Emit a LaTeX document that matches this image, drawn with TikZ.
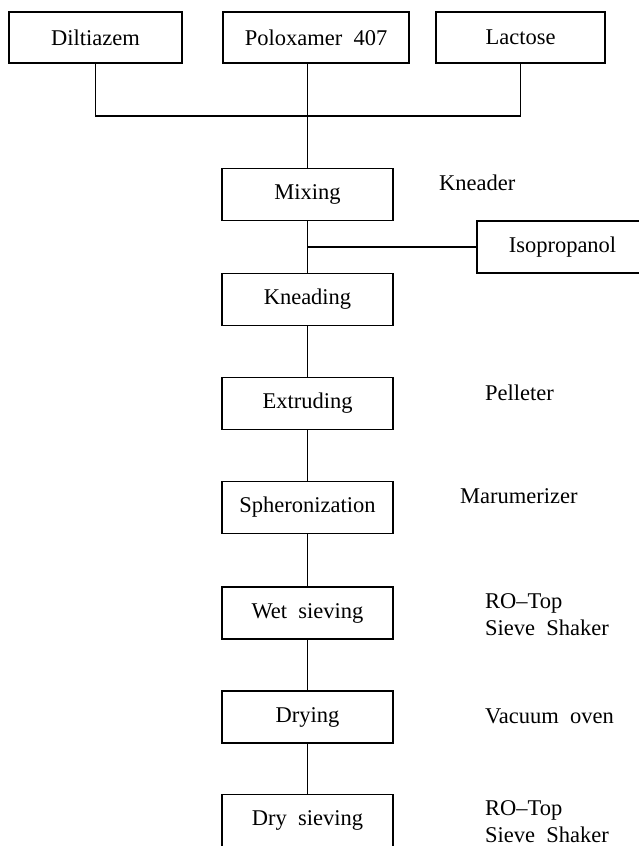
\documentclass[tikz,border=0pt]{standalone}
\usepackage{fontspec}
\setmainfont{Liberation Serif}
\begin{document}
\begin{tikzpicture}[x=1pt,y=-1pt,
  every node/.style={font=\fontsize{22.5}{27}\selectfont},
  box/.style={draw,line width=1.9pt,rectangle,inner sep=0pt,minimum height=52pt},
  procbox/.style={box,minimum width=171pt},
  lbl/.style={anchor=base west,inner sep=0pt,align=left},
  conn/.style={line width=1.9pt}]
\useasboundingbox (0,0) rectangle (639,846);
\clip (0,0) rectangle (639,846);
% top inputs
\node[box,minimum width=173pt,minimum height=51pt] (dil) at (95.5,37.5) {Diltiazem};
\node[box,minimum width=186pt,minimum height=51pt] (pol) at (316,37.5) {Poloxamer\ \ 407};
\node[box,minimum width=169pt,minimum height=51pt] (lac) at (520.5,37.5) {Lactose};
% process chain
\node[procbox] (mix) at (307.5,194.5) {Mixing};
\node[procbox] (kne) at (307.5,299.5) {Kneading};
\node[procbox] (ext) at (307.5,403.5) {Extruding};
\node[procbox] (sph) at (307.5,507.5) {Spheronization};
\node[procbox] (wet) at (307.5,613) {Wet\ \ sieving};
\node[procbox] (dry) at (307.5,717) {Drying};
\node[procbox] (drs) at (307.5,820.5) {Dry\ \ sieving};
\node[box,minimum width=165pt] (iso) at (559.5,247) {\hspace*{6pt}Isopropanol};
% equipment labels
\node[lbl] (l1) at (439,190) {Kneader};
\node[lbl] (l2) at (485,400) {Pelleter};
\node[lbl] (l3) at (460,503) {Marumerizer};
\node[lbl] (l4) at (485,635) {RO--Top\\Sieve\ \ Shaker};
\node[lbl] (l5) at (485,723) {Vacuum\ \ oven};
\node[lbl] (l6) at (485,842) {RO--Top\\Sieve\ \ Shaker};
% connectors
\coordinate (j1) at (307.5,116);
\coordinate (j2) at (307.5,247);
\draw[conn] (dil.south) |- (j1) -| (lac.south);
\draw[conn] (mix.north |- pol.south) -- (mix.north);
\draw[conn] (j2) -- (iso.west);
\draw[conn] (mix) -- (kne);
\draw[conn] (kne) -- (ext);
\draw[conn] (ext) -- (sph);
\draw[conn] (sph) -- (wet);
\draw[conn] (wet) -- (dry);
\draw[conn] (dry) -- (drs);
\end{tikzpicture}
\end{document}
